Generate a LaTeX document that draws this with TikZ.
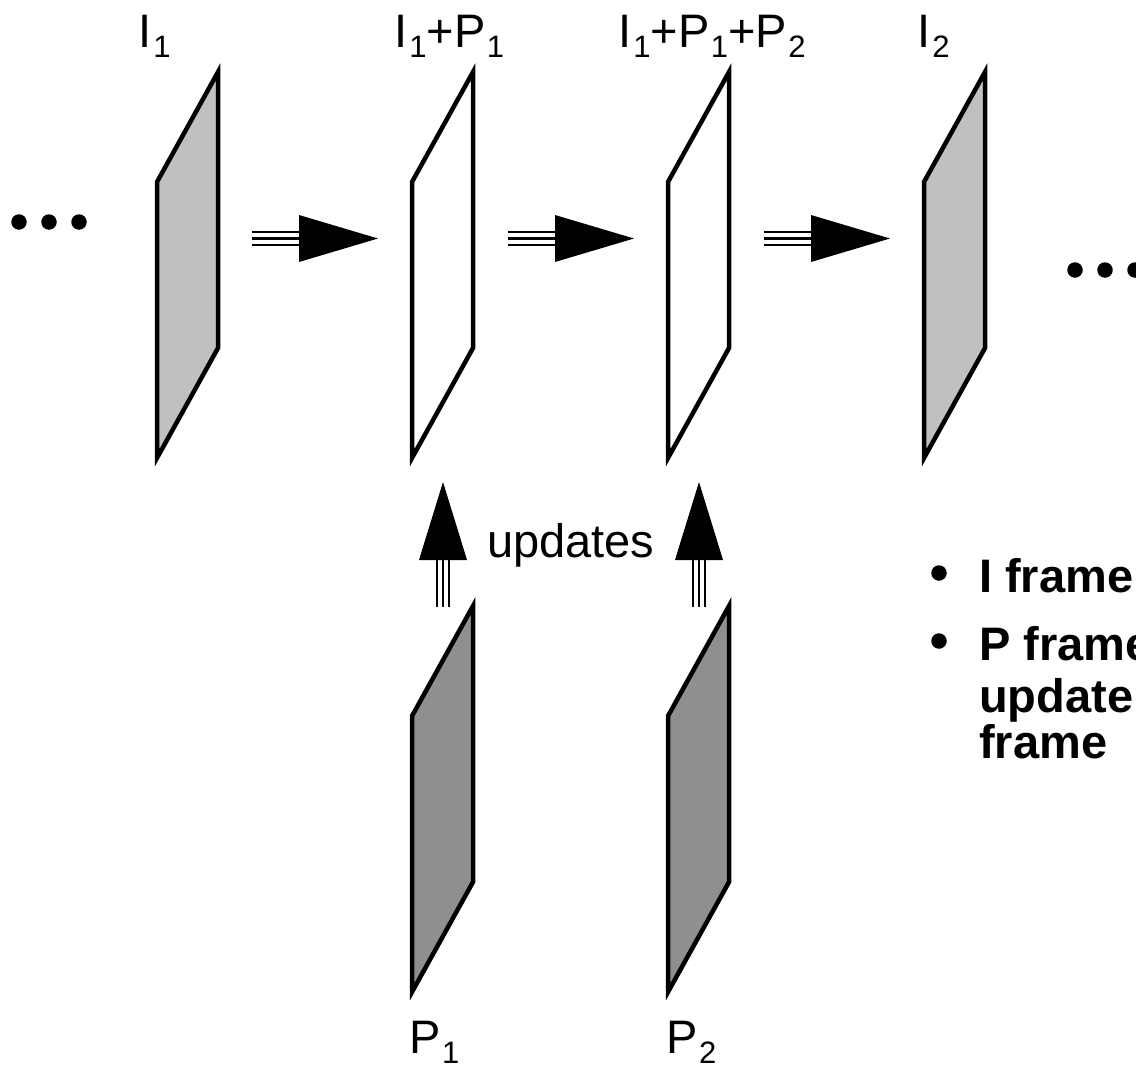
\documentclass[tikz,border=0pt]{standalone}
\usepackage{fontspec}
\setmainfont{Liberation Sans}
\begin{document}
\newcommand\sbs[1]{\hspace{1.5pt}\raisebox{-10pt}{\fontsize{31}{31}\selectfont #1}}
\definecolor{igray}{HTML}{C0C0C0}
\definecolor{pgray}{HTML}{8F8F8F}
\begin{tikzpicture}[x=1pt,y=-1pt,
  lbl/.style={inner sep=0pt,anchor=base west,font=\fontsize{47}{52}\selectfont},
  blt/.style={inner sep=0pt,anchor=base west,font=\fontsize{47}{52}\selectfont\bfseries},
  dotmark/.style={circle,fill=black,inner sep=0pt,minimum size=15.5pt},
  framebox/.style={draw=black,line width=4.5pt,line join=miter},
  shaft/.style={line width=2.5pt},
  harrow/.pic={
    \foreach \d in {-6.5,0,6.5} \draw[shaft] (0,\d) -- (49,\d);
    \fill (47,-23.5) -- (126,0) -- (47,23.5) -- cycle;
  },
  varrow/.pic={
    \foreach \d in {-6,0,6} \draw[shaft] (\d,0) -- (\d,-50);
    \fill (-24,-47) -- (0,-125) -- (24,-47) -- cycle;
  }]
\useasboundingbox (0,0) rectangle (1136,1068);
\clip (0,0) rectangle (1136,1068);

% frames (corner = top-left vertex)
\coordinate (fI1) at (157,182);
\coordinate (fA)  at (412,182);
\coordinate (fB)  at (668,182);
\coordinate (fI2) at (924,182);
\coordinate (fP1) at (412,716);
\coordinate (fP2) at (668,716);
\draw[framebox,fill=igray] (fI1) -- ++(61,-110) -- ++(0,276) -- ++(-61,110) -- cycle;
\draw[framebox,fill=white] (fA) -- ++(61,-110) -- ++(0,276) -- ++(-61,110) -- cycle;
\draw[framebox,fill=white] (fB) -- ++(61,-110) -- ++(0,276) -- ++(-61,110) -- cycle;
\draw[framebox,fill=igray] (fI2) -- ++(61,-110) -- ++(0,276) -- ++(-61,110) -- cycle;
\draw[framebox,fill=pgray] (fP1) -- ++(61,-110) -- ++(0,276) -- ++(-61,110) -- cycle;
\draw[framebox,fill=pgray] (fP2) -- ++(61,-110) -- ++(0,276) -- ++(-61,110) -- cycle;

% arrows
\coordinate (h1) at (252,238.5);
\coordinate (h2) at (508,238.5);
\coordinate (h3) at (764,238.5);
\pic at (h1) {harrow};
\pic at (h2) {harrow};
\pic at (h3) {harrow};
\coordinate (v1) at (443,607);
\coordinate (v2) at (699,607);
\pic at (v1) {varrow};
\pic at (v2) {varrow};

% labels
\node[lbl] (lI1) at (138.6,47) {I\sbs{1}};
\node[lbl] (lA) at (394.6,47) {I\sbs{1}+P\sbs{1}};
\node[lbl] (lB) at (618.6,47) {I\sbs{1}+P\sbs{1}+P\sbs{2}};
\node[lbl] (lI2) at (917.6,47) {I\sbs{2}};
\node[lbl] (lP1) at (409,1053) {P\sbs{1}};
\node[lbl] (lP2) at (666,1053) {P\sbs{2}};
\node[lbl] (upd) at (487,557) {updates};

% continuation dots
\foreach \x [count=\i] in {19,49,79} \node[dotmark] (ld\i) at (\x,222) {};
\foreach \x [count=\i] in {1075,1105,1135} \node[dotmark] (rd\i) at (\x,270) {};

% bullets
\node[dotmark] (b1) at (939,573) {};
\node[blt] (t1) at (979,592) {I frame};
\node[dotmark] (b2) at (939,641) {};
\node[blt] (t2) at (979,660) {P frame};
\node[blt] (t3) at (979,712) {update};
\node[blt] (t4) at (979,758) {frame};
\end{tikzpicture}
\end{document}
